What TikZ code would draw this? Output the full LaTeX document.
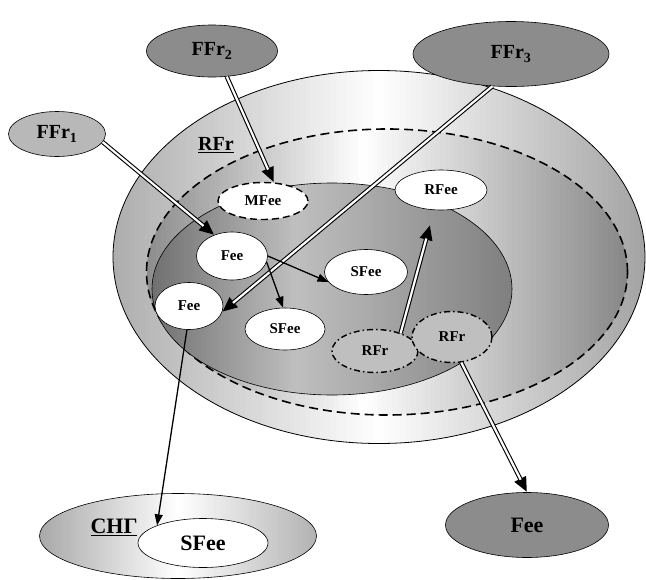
\documentclass[tikz,border=0pt]{standalone}
\usepackage{fontspec}
\setmainfont{Liberation Serif}
\usepackage{tikz}
\usetikzlibrary{shapes,arrows.meta}

% strip gradient inside an ellipse: cx, cy, rx, ry, left, middle, right (black %), middle position
\newcommand{\shadeoval}[8]{%
  \begin{scope}
    \clip (#1,#2) ellipse [x radius=#3, y radius=#4];
    \pgfmathsetmacro\stripw{2*#3/100}
    \foreach \i in {0,...,99} {
      \pgfmathsetmacro\tpos{(\i+0.5)/100}
      \pgfmathsetmacro\dark{#6+(#5-#6)*max(0,1-\tpos/#8)+(#7-#6)*max(0,(\tpos-#8)/(1-#8))}
      \fill [black!\dark!white] ({#1-#3+\i*\stripw},{#2-#4-1}) rectangle ++({\stripw+0.6},{2*#4+2});
    }
  \end{scope}}

\begin{document}
\begin{tikzpicture}[x=1pt,y=-1pt]
      \tikzstyle{region} = [ellipse, draw, inner sep=0pt]
      \tikzstyle{box} = [ellipse, draw, semithick, fill=white, inner sep=0pt, font=\fontsize{15}{15}\selectfont\bfseries]
      \tikzstyle{ext} = [ellipse, draw, semithick, fill=black!45, inner sep=0pt, font=\fontsize{20}{20}\selectfont\bfseries]
      \tikzstyle{rfr} = [ellipse, draw, line width=1.4pt, dash pattern=on 6pt off 3pt on 1.5pt off 3pt, fill=black!25, inner sep=0pt, font=\fontsize{15}{15}\selectfont\bfseries]
      \tikzstyle{flow} = [line width=1.3pt, -{Triangle[length=11pt,width=8pt]}]
      \tikzstyle{dflow} = [line width=4.4pt, -{Triangle[length=15pt,width=12pt]}, postaction={draw=white, line width=2.2pt, -, shorten >=14pt}]
      \useasboundingbox (0,0) rectangle (646,579);
      % regions
      \shadeoval{379}{257}{266}{186.5}{32}{0}{36}{0.5}
      \node (outer) [region, thick, minimum width=532, minimum height=373] at (379,257) {};
      \shadeoval{387}{272}{240.5}{143}{45}{0}{47}{0.45}
      \node (rfrzone) [region, line width=1.6pt, dash pattern=on 9pt off 5pt, minimum width=481, minimum height=286] at (387,272) {};
      \shadeoval{332}{289}{180}{106}{56}{25}{50}{0.4}
      \node (inner) [region, semithick, minimum width=360, minimum height=212] at (332,289) {};
      \node (rfrlabel) at (216,145) {\fontsize{20}{20}\selectfont\bfseries\underline{RFr}};
      % outside
      \node (ffr1) [ext, fill=black!28, minimum width=97, minimum height=45] at (57,134) {FFr\textsubscript{1}};
      \node (ffr2) [ext, minimum width=131, minimum height=52] at (212,51) {FFr\textsubscript{2}};
      \node (ffr3) [ext, minimum width=196, minimum height=65] at (511,54) {FFr\textsubscript{3}};
      \node (fee3) [ext, minimum width=163, minimum height=65, font=\fontsize{22}{22}\selectfont\bfseries] at (527,525) {Fee};
      \shadeoval{178}{536}{138.5}{42.5}{34}{0}{30}{0.5}
      \node (cis) [region, semithick, minimum width=277, minimum height=85] at (178,536) {};
      \node (cislabel) at (114,527) {\fontsize{22}{22}\selectfont\bfseries\underline{СНГ}};
      \node (sfee3) [box, minimum width=130, minimum height=49, font=\fontsize{22}{22}\selectfont\bfseries] at (203,543) {SFee};
      % inside
      \node (mfee) [box, line width=1.4pt, dash pattern=on 7pt off 4pt, minimum width=90, minimum height=37] at (263,201) {MFee};
      \node (rfee) [box, minimum width=92, minimum height=40] at (441,190) {RFee};
      \coordinate (rfeetip) at (430,225);
      \node (fee1) [box, minimum width=71, minimum height=48] at (232,256) {Fee};
      \node (sfee1) [box, minimum width=83, minimum height=45] at (366,272) {SFee};
      \node (fee2) [box, minimum width=68, minimum height=47] at (189,306) {Fee};
      \node (sfee2) [box, minimum width=80, minimum height=42] at (285,329) {SFee};
      \node (rfr1) [rfr, minimum width=86, minimum height=43] at (375,351) {RFr};
      \node (rfr2) [rfr, minimum width=80, minimum height=51] at (452,337) {RFr};
      % flows
      \draw [dflow] (ffr1.-10) -- (fee1.130);
      \draw [dflow] (ffr2.-60) -- (mfee.60);
      \draw [dflow] (ffr3.240) -- (fee2.-10);
      \draw [dflow] (rfr1.35) -- (rfeetip);
      \draw [dflow] (rfr2.-70) -- (fee3.north);
      \draw [flow] (fee1.0) -- (sfee1.195);
      \draw [flow] (fee1.-10) -- (sfee2.95);
      \draw [flow] (fee2.-95) -- (sfee3.159);
    \end{tikzpicture}
\end{document}
